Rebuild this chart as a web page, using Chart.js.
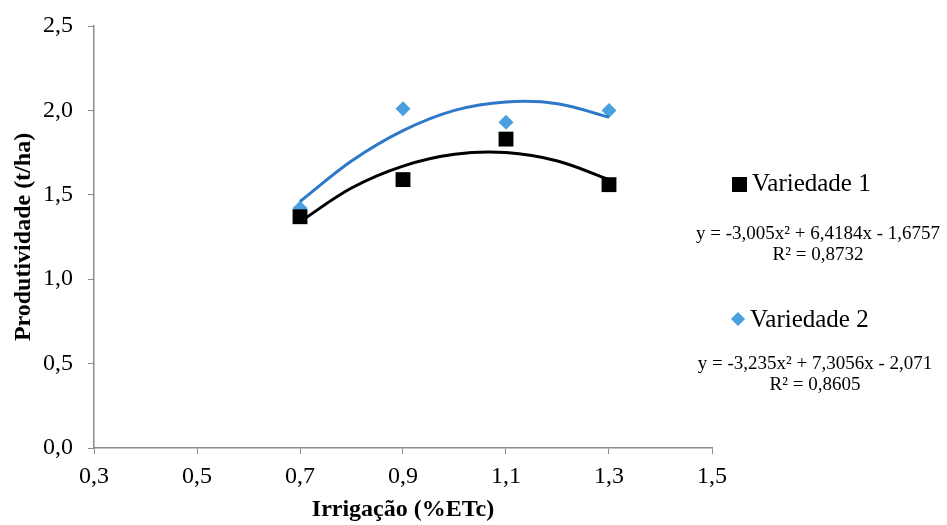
<!DOCTYPE html>
<html>
<head>
<meta charset="utf-8">
<script src="https://cdn.jsdelivr.net/npm/chart.js@4/dist/chart.umd.min.js"></script>
<style>
body{margin:0;background:#fff;}
#wrap{position:relative;width:947px;height:525px;}
.leg{position:absolute;font-family:"Liberation Serif",serif;color:#000;}
.lab{font-size:25px;white-space:nowrap;}
.eq{font-size:19px;line-height:21px;text-align:center;white-space:nowrap;width:260px;}
.sq{display:inline-block;width:15px;height:15px;background:#000;margin-right:5px;vertical-align:-1px;}
.dm{display:inline-block;width:10px;height:10px;background:#4a9fdf;transform:rotate(45deg);margin:0 7px 0 3px;vertical-align:3px;}
</style>
</head>
<body>
<div id="wrap">
<canvas id="mcnv" width="947" height="525"></canvas>
<div class="leg lab" style="left:732px;top:169px;"><span class="sq"></span>Variedade 1</div>
<div class="leg eq" style="left:688px;top:222px;">y = -3,005x² + 6,4184x - 1,6757<br>R² = 0,8732</div>
<div class="leg lab" style="left:730px;top:305px;"><span class="dm"></span>Variedade 2</div>
<div class="leg eq" style="left:685px;top:352px;">y = -3,235x² + 7,3056x - 2,071<br>R² = 0,8605</div>
</div>
<script>
// dados observados
var irrig = [0.7, 0.9, 1.1, 1.3];
var var1 = [1.37, 1.59, 1.83, 1.56];
var var2 = [1.42, 2.01, 1.93, 2.00];

// linhas de tendencia
var trendX = [0.7, 0.8, 0.9, 1.0, 1.1, 1.2, 1.3];
var trend1 = [1.34, 1.54, 1.67, 1.74, 1.75, 1.70, 1.59];
var trend2 = [1.46, 1.70, 1.88, 2.00, 2.05, 2.04, 1.96];

function pts(xs, ys){
	var out = [];
	for(var i = 0;i < xs.length;i++){
		out.push({x: xs[i], y: ys[i]});
	}
	return out;
}
function virg(v){
	return Number(v).toFixed(1).replace('.', ',');
}

var fnt = {family: '"Liberation Serif", serif', size: 24};
var fntY = {family: '"Liberation Serif", serif', size: 24, lineHeight: 0.9};
var fntB = {family: '"Liberation Serif", serif', size: 24, weight: 'bold'};

var ctx = document.getElementById("mcnv");
var chrt = new Chart(ctx, {
	type: 'scatter',
	data: {
		datasets: [
		{
			label: "Tendência 2",
			data: pts(trendX, trend2),
			showLine: true,
			borderColor: "#2e78c9",
			borderWidth: 3,
			pointRadius: 0,
			tension: 0.35,
			fill: false
		},
		{
			label: "Tendência 1",
			data: pts(trendX, trend1),
			showLine: true,
			borderColor: "#000",
			borderWidth: 3,
			pointRadius: 0,
			tension: 0.35,
			fill: false
		},
		{
			label: "Variedade 1",
			data: pts(irrig, var1),
			pointStyle: 'rect',
			pointRadius: 10.5,
			backgroundColor: "#000",
			borderColor: "#000",
			borderWidth: 0
		},
		{
			label: "Variedade 2",
			data: pts(irrig, var2),
			pointStyle: 'rectRot',
			pointRadius: 7.5,
			backgroundColor: "#4a9fdf",
			borderColor: "#4a9fdf",
			borderWidth: 0
		}
		]
	},
	options: {
		responsive: false,
		animation: false,
		layout: {autoPadding: false, padding: {top: 26, right: 235, left: 0, bottom: 0}},
		plugins: {legend: {display: false}, tooltip: {enabled: false}},
		scales: {
			x: {
				min: 0.3, max: 1.5,
				ticks: {stepSize: 0.2, color: '#000', font: fnt, padding: 8, callback: function(v){ return virg(v); }},
				grid: {drawOnChartArea: false, drawTicks: true, tickLength: 6, color: '#8c8c8c'},
				border: {color: '#8c8c8c', width: 1.5},
				title: {display: true, text: 'Irrigação (%ETc)', color: '#000', font: fntB, padding: {top: 0, bottom: 1}},
				afterFit: function(s){ s.height = 77; }
			},
			y: {
				min: 0, max: 2.5,
				ticks: {stepSize: 0.5, color: '#000', font: fntY, padding: 15, callback: function(v){ return virg(v); }},
				grid: {drawOnChartArea: false, drawTicks: true, tickLength: 6, color: '#8c8c8c'},
				border: {color: '#8c8c8c', width: 1.5},
				title: {display: true, text: 'Produtividade (t/ha)', color: '#000', font: fntB, padding: 9},
				afterFit: function(s){ s.width = 94; }
			}
		}
	}
});
</script>
</body>
</html>
